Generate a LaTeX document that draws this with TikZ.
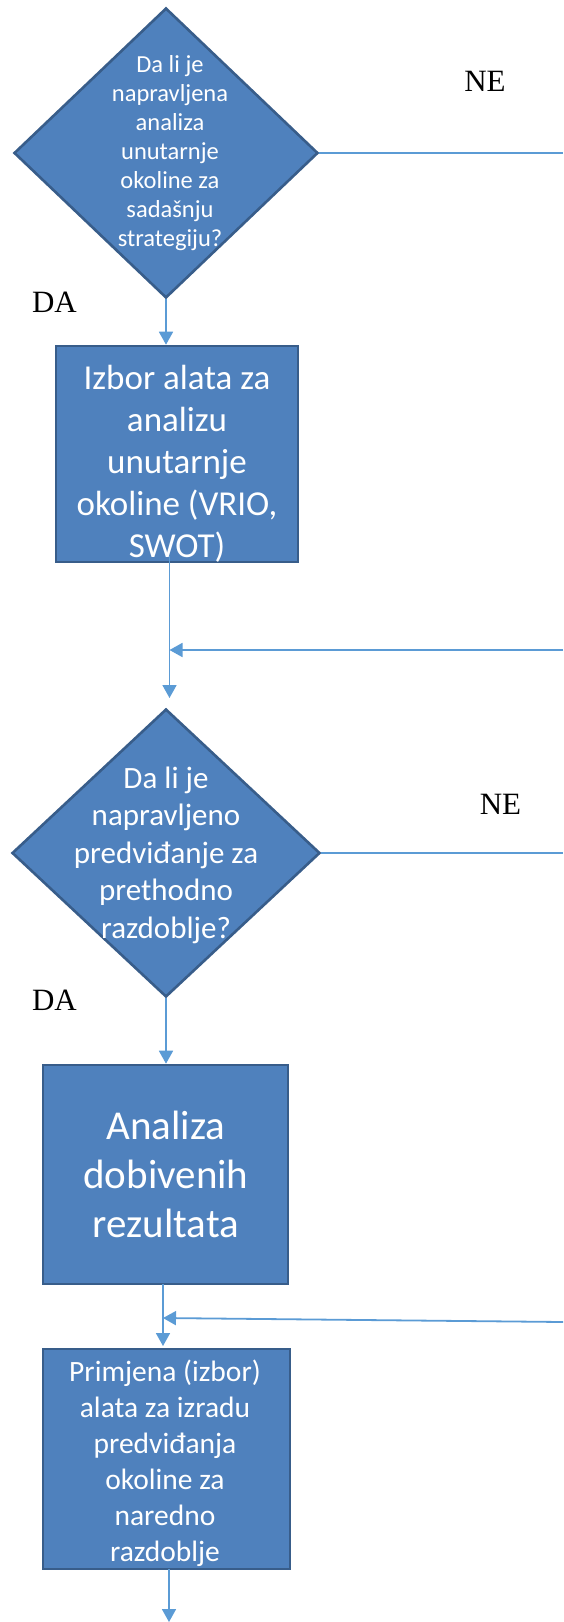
\documentclass[tikz,border=0pt]{standalone}
\usepackage{fontspec}
\setmainfont{Liberation Serif}
\newfontfamily\calfont{Carlito}
\usetikzlibrary{shapes.geometric,arrows.meta}
\definecolor{shapefill}{HTML}{4F81BD}
\definecolor{shapeedge}{HTML}{385D8A}
\definecolor{conn}{HTML}{5B9BD5}
\begin{document}
\begin{tikzpicture}[x=1pt,y=-1pt,
  dia/.style={diamond, draw=shapeedge, fill=shapefill, line width=2.6pt, inner sep=0pt},
  box/.style={rectangle, draw=shapeedge, fill=shapefill, line width=2.6pt, inner sep=0pt},
  txt/.style={text=white, align=center, inner sep=0pt},
  lbl/.style={inner sep=0pt, font=\fontsize{31}{37}\selectfont},
  arr/.style={draw=conn, line width=1.8pt, -{Triangle[length=13pt,width=14pt]}},
  ln/.style={draw=conn, line width=1.8pt}]
\useasboundingbox (0,0) rectangle (563,1622);

% shapes
\node[dia, minimum width=304pt, minimum height=290pt] (d1) at (166,153) {};
\node[txt, font=\calfont\fontsize{24.5}{29}\selectfont] (t1) at (170,153)
  {Da li je\\napravljena\\analiza\\unutarnje\\okoline za\\sadašnju\\strategiju?};

\node[box, minimum width=242pt, minimum height=216pt] (b1) at (177,454) {};
\node[txt, font=\calfont\fontsize{35}{42}\selectfont] (t2) at (177,464)
  {Izbor alata za\\analizu\\unutarnje\\okoline (VRIO,\\SWOT)};

\node[dia, minimum width=308pt, minimum height=288pt] (d2) at (166,853) {};
\node[txt, font=\calfont\fontsize{31}{37.5}\selectfont] (t3) at (166,855)
  {Da li je\\napravljeno\\predviđanje za\\prethodno\\razdoblje?};

\node[box, minimum width=245pt, minimum height=219pt] (b2) at (165.5,1174.5) {};
\node[txt, font=\calfont\fontsize{41}{49}\selectfont] (t4) at (166,1174)
  {Analiza\\dobivenih\\rezultata};

\node[box, minimum width=247pt, minimum height=220pt] (b3) at (166.5,1459) {};
\node[txt, font=\calfont\fontsize{29.5}{36}\selectfont] (t5) at (165,1463)
  {Primjena (izbor)\\alata za izradu\\predviđanja\\okoline za\\naredno\\razdoblje};

% labels
\node[lbl] (ne1) at (485,81) {NE};
\node[lbl] (da1) at (54.5,302.5) {DA};
\node[lbl] (ne2) at (500.5,804) {NE};
\node[lbl] (da2) at (54.5,1000) {DA};

% coordinates
\coordinate (e1) at (563,153);
\coordinate (e2) at (563,853);
\coordinate (r1) at (563,650);
\coordinate (j1) at (169.5,650);
\coordinate (s1) at (169.5,556);
\coordinate (p1) at (169.5,698);
\coordinate (r2) at (563,1322);
\coordinate (j2) at (163,1318);
\coordinate (s2) at (163,1284);
\coordinate (p2) at (163,1346);
\coordinate (s3) at (169,1569);
\coordinate (p3) at (169,1622);

% connectors
\draw[ln] (d1.east) -- (e1);
\draw[ln] (d2.east) -- (e2);
\draw[arr] (d1.south) -- (d1.south |- b1.north);
\draw[arr] (s1) -- (p1);
\draw[arr] (r1) -- (j1);
\draw[arr] (d2.south) -- (d2.south |- b2.north);
\draw[arr] (s2) -- (p2);
\draw[arr] (r2) -- (j2);
\draw[arr] (s3) -- (p3);
\end{tikzpicture}
\end{document}
